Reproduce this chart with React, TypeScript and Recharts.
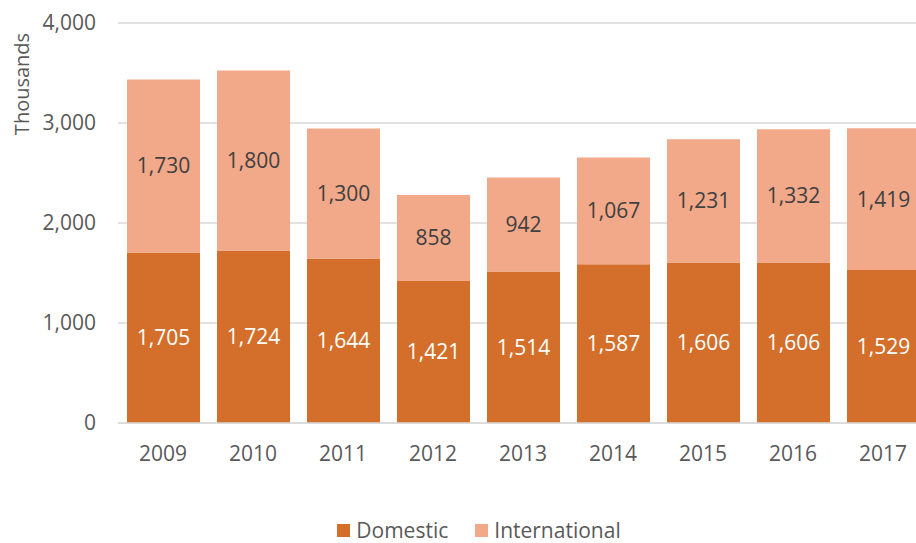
import { BarChart, Bar, XAxis, YAxis, CartesianGrid, Legend, LabelList } from "recharts"

const years = ["2009", "2010", "2011", "2012", "2013", "2014", "2015", "2016", "2017"]
const domestic = [1705, 1724, 1644, 1421, 1514, 1587, 1606, 1606, 1529]
const international = [1730, 1800, 1300, 858, 942, 1067, 1231, 1332, 1419]
const yTicks = [0, 1000, 2000, 3000, 4000]

const data = years.map((year, i) => ({
  year,
  Domestic: domestic[i],
  International: international[i],
}))

const FONT = "'Open Sans', sans-serif"
const fmt = (v: number) => v.toLocaleString("en-US")

const renderLegend = (props: any) => {
  const items = props.payload || []
  return (
    <div style={{ display: "flex", justifyContent: "center", gap: 27, paddingLeft: 42, fontFamily: FONT, fontSize: 21, lineHeight: "25px", color: "#595959" }}>
      {items.map((entry: any) => (
        <div key={entry.value} style={{ display: "flex", alignItems: "center" }}>
          <span style={{ width: 13, height: 13, background: entry.color, display: "inline-block", marginRight: 6 }} />
          <span>{entry.value}</span>
        </div>
      ))}
    </div>
  )
}

export default function App() {
  return (
    <div style={{ position: "absolute", left: 0, top: 0, width: 916, height: 543, overflow: "hidden", background: "#fff" }}>
      <BarChart width={930} height={543} data={data} margin={{ top: 23, right: 2, bottom: 0, left: 0 }}>
        <CartesianGrid vertical={false} stroke="#d9d9d9" strokeWidth={1.5} />
        <XAxis
          dataKey="year"
          axisLine={{ stroke: "#d9d9d9", strokeWidth: 1.5 }}
          tickLine={false}
          tickSize={0}
          tickMargin={23}
          height={95}
          tick={{ fill: "#595959", fontSize: 21, fontFamily: FONT }}
        />
        <YAxis
          width={118}
          domain={[0, 4000]}
          ticks={yTicks}
          tickFormatter={fmt}
          axisLine={false}
          tickLine={false}
          tickSize={0}
          tickMargin={22}
          tick={{ fill: "#595959", fontSize: 21, fontFamily: FONT }}
          label={{
            content: (p: any) => {
              const vb = p.viewBox || {}
              const cx = 21
              const cy = (vb.y || 23) + 61
              return (
                <text x={cx} y={cy} transform={`rotate(-90 ${cx} ${cy})`} textAnchor="middle" dominantBaseline="central" fill="#595959" fontSize={20} fontFamily={FONT}>
                  Thousands
                </text>
              )
            },
          }}
        />
        <Legend verticalAlign="bottom" content={renderLegend} wrapperStyle={{ bottom: 0, left: 0, width: 916, height: 25 }} />
        <Bar dataKey="Domestic" stackId="a" fill="#D46F2B" barSize={73} isAnimationActive={false}>
          <LabelList dataKey="Domestic" position="center" formatter={(v: any) => fmt(Number(v))} fill="#ffffff" fontSize={21} fontFamily={FONT} />
        </Bar>
        <Bar dataKey="International" stackId="a" fill="#F1A98A" barSize={73} isAnimationActive={false}>
          <LabelList dataKey="International" position="center" formatter={(v: any) => fmt(Number(v))} fill="#404040" fontSize={21} fontFamily={FONT} />
        </Bar>
      </BarChart>
    </div>
  )
}
